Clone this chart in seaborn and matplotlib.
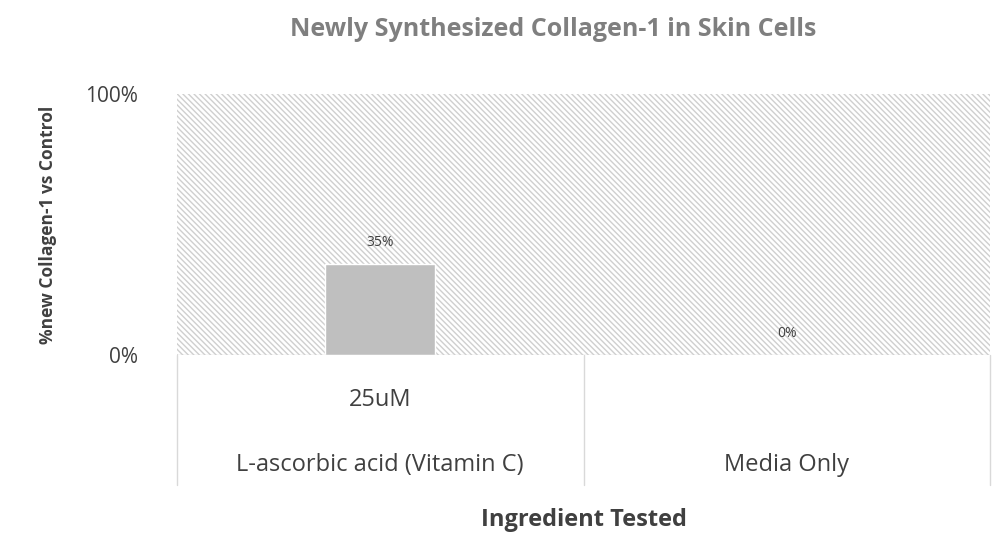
import matplotlib
matplotlib.use("Agg")
import matplotlib.pyplot as plt
import seaborn as sns
import pandas as pd
import matplotlib.transforms as mtrans

categories = ["L-ascorbic acid (Vitamin C)", "Media Only"]
concentrations = ["25uM", ""]
values = [0.35, 0.0]
value_labels = ["35%", "0%"]

sns.set_theme(style="white")
plt.rcParams['font.family'] = ['Open Sans', 'DejaVu Sans']
df = pd.DataFrame({"cat": categories, "val": values})

fig = plt.figure(figsize=(9.93, 5.47), dpi=100)
ax = fig.add_axes([177/993, 1-355/547, (990-177)/993, (355-94)/547])
ax.axhspan(0, 1, facecolor="white", edgecolor="#cfcfcf", hatch="\\\\\\\\\\\\", linewidth=0, zorder=0)
sns.barplot(data=df, x="cat", y="val", color="#bfbfbf", width=0.27, saturation=1, ax=ax, zorder=2)
ax.set_xlim(-0.5, 1.5)
ax.set_ylim(0, 1)
ax.set_yticks([0, 1])
ax.set_yticklabels(["0%", "100%"], fontsize=15, color="#404040")
ax.tick_params(axis="y", length=0, pad=28)
ax.set_xticks([])
ax.set_xlabel("")
ax.set_ylabel("")
for s in ax.spines.values():
    s.set_visible(False)
ax.axhline(0, color="#d9d9d9", lw=1, zorder=3)
for i, (v, lab) in enumerate(zip(values, value_labels)):
    ax.annotate(lab, (i, v), xytext=(0, 10), textcoords="offset points", ha="center", va="bottom",
                fontsize=10, color="#404040")

trans = mtrans.blended_transform_factory(ax.transData, ax.transAxes)
for xb in [-0.5, 0.5, 1.5]:
    ax.plot([xb, xb], [0, -130/261], transform=trans, color="#d9d9d9", lw=1, clip_on=False)
for i, (c, conc) in enumerate(zip(categories, concentrations)):
    if conc:
        ax.text(i, -45/261, conc, transform=trans, ha="center", va="center", fontsize=17, color="#404040")
    ax.text(i, -110/261, c, transform=trans, ha="center", va="center", fontsize=17, color="#404040")

ax.text(0.5, -165/261, "Ingredient Tested", transform=ax.transAxes, ha="center", va="center",
        fontsize=17, fontweight="bold", color="#404040")
fig.text(48/993, 1-225/547, "%new Collagen-1 vs Control", rotation=90, ha="center", va="center",
         fontsize=12.5, fontweight="bold", color="#404040")
fig.text(553/993, 1-30/547, "Newly Synthesized Collagen-1 in Skin Cells", ha="center", va="center",
         fontsize=18, fontweight="bold", color="#7f7f7f")
fig.savefig("out.png", dpi=100)
